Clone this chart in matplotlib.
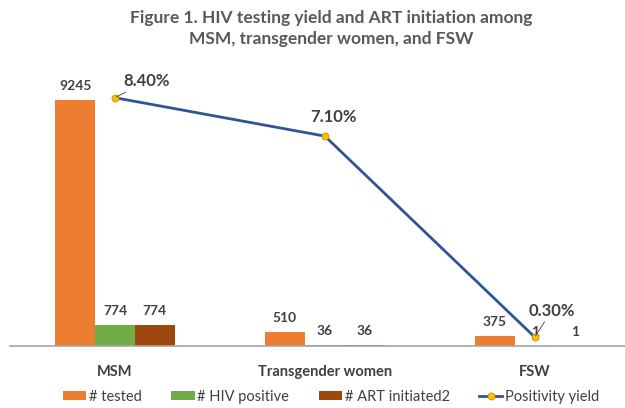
import numpy as np
import matplotlib.pyplot as plt

plt.rcParams['font.family'] = ['Lato', 'DejaVu Sans']

# data
groups = ["MSM", "Transgender women", "FSW"]
tested = [9245, 510, 375]
hiv_pos = [774, 36, 1]
art_init = [774, 36, 1]
yield_pct = [8.40, 7.10, 0.30]
yield_labels = ["8.40%", "7.10%", "0.30%"]

c_tested = "#ED7D31"
c_pos = "#70AD47"
c_art = "#9E480E"
c_line = "#2F5597"
c_text = "#404040"

fig = plt.figure(figsize=(6.25, 4.08), dpi=100)
ax = fig.add_axes([0.016, 0.152, 0.984, 0.652])
ax2 = ax.twinx()

x = np.arange(len(groups))
w = 0.19
b1 = ax.bar(x - w, tested, w, color=c_tested, label="# tested")
b2 = ax.bar(x, hiv_pos, w, color=c_pos, label="# HIV positive")
b3 = ax.bar(x + w, art_init, w, color=c_art, label="# ART initiated2")

for bars in (b1, b2, b3):
    for r in bars:
        h = r.get_height()
        ax.annotate(f"{int(h)}", (r.get_x() + r.get_width() / 2, h),
                    xytext=(0, 6), textcoords="offset points", ha="center",
                    va="bottom", fontsize=10, fontweight="bold", color=c_text)

ln, = ax2.plot(x, yield_pct, color=c_line, lw=2, marker="o", ms=5,
               mfc="#FFC000", mec="#BF9000", mew=0.6, label="Positivity yield")

# percent labels
ax2.annotate(yield_labels[0], (x[0], yield_pct[0]), xytext=(6, 6),
             textcoords="offset points", ha="left", va="bottom", fontsize=12,
             fontweight="bold", color=c_text,
             arrowprops=dict(arrowstyle="-", color="#404040", lw=0.6,
                             shrinkA=0, shrinkB=1))
ax2.annotate(yield_labels[1], (x[1], yield_pct[1]), xytext=(6, 8),
             textcoords="offset points", ha="center", va="bottom", fontsize=12,
             fontweight="bold", color=c_text)
ax2.annotate(yield_labels[2], (x[2], yield_pct[2]), xytext=(12, 13),
             textcoords="offset points", ha="center", va="bottom", fontsize=12,
             fontweight="bold", color=c_text,
             arrowprops=dict(arrowstyle="-", color="#404040", lw=0.6,
                             shrinkA=0, shrinkB=1))

ax.set_xlim(-0.5, 2.43)
ax.set_ylim(0, 10000)
ax2.set_ylim(0, 9)

for a in (ax, ax2):
    for s in ["top", "right", "left"]:
        a.spines[s].set_visible(False)
    a.set_yticks([])
ax2.spines["bottom"].set_visible(False)
ax.spines["bottom"].set_color("#A6A6A6")
ax.spines["bottom"].set_linewidth(1.2)

ax.set_xticks(x)
ax.set_xticklabels(groups, fontsize=10.5, fontweight="bold", color=c_text)
ax.tick_params(axis="x", length=0, pad=14)

fig.text(0.53, 0.975, "Figure 1. HIV testing yield and ART initiation among\nMSM, transgender women, and FSW",
         ha="center", va="top", fontsize=12.5, fontweight="bold",
         color="#595959", linespacing=1.35)

handles = [b1, b2, b3, ln]
fig.legend(handles, [h.get_label() for h in handles], loc="center",
           bbox_to_anchor=(0.53, 0.027), ncol=4, frameon=False, fontsize=10.5,
           handlelength=1.6, handleheight=0.6, columnspacing=2.0,
           handletextpad=0.2, labelcolor=c_text)

fig.savefig("out.png", dpi=100)
